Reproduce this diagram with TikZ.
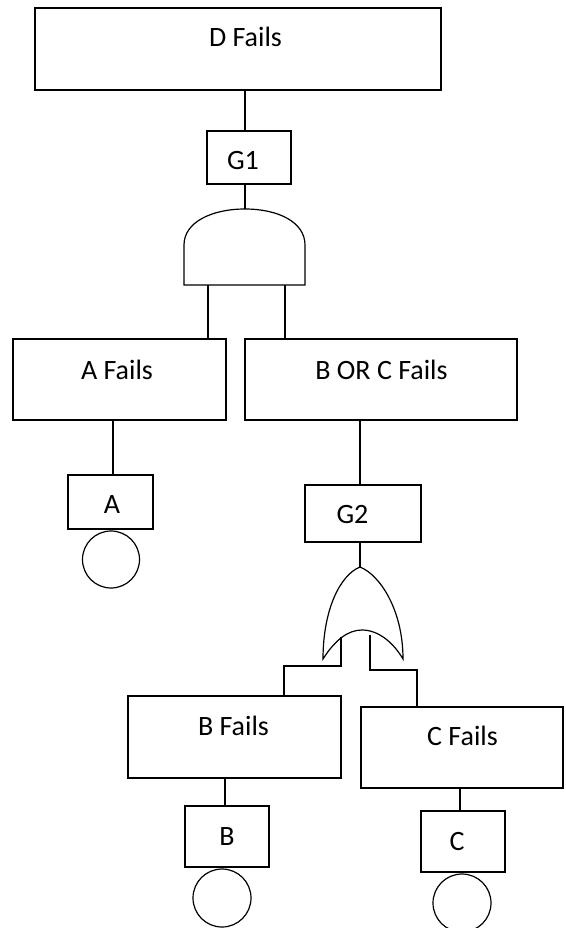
\documentclass[tikz,border=0pt]{standalone}
\usepackage{fontspec}
\setmainfont{Carlito}
\begin{document}
\begin{tikzpicture}[x=1pt,y=-1pt,line width=1.2pt,
  evbox/.style 2 args={draw,rectangle,inner sep=0pt,minimum width=#1,minimum height=#2},
  basic/.style={draw,circle,inner sep=0pt,minimum size=#1},
  lbl/.style={font=\fontsize{28}{32}\selectfont,anchor=base,inner sep=0pt}]
\useasboundingbox (0,0) rectangle (565,928);

% events
\node[evbox={406pt}{82pt}] (dbox) at (238,49) {};
\node[lbl] (dtxt) at (245.5,47) {D Fails};
\node[evbox={84pt}{53pt}] (g1) at (249,157.5) {};
\node[lbl] (g1txt) at (243,170) {G1};
\node[evbox={213pt}{81pt}] (afails) at (119.5,379.5) {};
\node[lbl] (afailstxt) at (117,379) {A Fails};
\node[evbox={272pt}{81pt}] (bcfails) at (381,379.5) {};
\node[lbl] (bcfailstxt) at (381.5,379) {B OR C Fails};
\node[evbox={116pt}{57pt}] (g2) at (363,513.5) {};
\node[lbl] (g2txt) at (352.5,523) {G2};
\node[evbox={85pt}{54pt}] (abox) at (110.5,502) {};
\node[lbl] (atxt) at (112,513) {A};
\node[basic=57pt] (acirc) at (111,559.5) {};
\node[evbox={213pt}{82pt}] (bfails) at (234.5,737) {};
\node[lbl] (bfailstxt) at (233.5,735) {B Fails};
\node[evbox={202pt}{81pt}] (cfails) at (462,747.5) {};
\node[lbl] (cfailstxt) at (462.5,745) {C Fails};
\node[evbox={84pt}{61pt}] (bbox) at (227,836.5) {};
\node[lbl] (btxt) at (227,845) {B};
\node[basic=58pt] (bcirc) at (222,898) {};
\node[evbox={84pt}{61pt}] (cbox) at (463,841.5) {};
\node[lbl] (ctxt) at (457,850) {C};
\node[basic=58pt] (ccirc) at (462,903) {};

% AND gate G1
\coordinate (andtop) at (245,209);
\coordinate (andl) at (208,285);
\coordinate (andr) at (285,285);
\draw (184,285) -- (184,245) .. controls (184,222) and (212,209) .. (andtop)
      .. controls (278,209) and (305,222) .. (305,245) -- (305,285) -- cycle;

% OR gate G2
\coordinate (ortop) at (360,567);
\coordinate (orl) at (341,637);
\coordinate (orr) at (370,635);
\coordinate (orlk) at (284,666);
\coordinate (orrk) at (417,670);
\draw (ortop) .. controls (340,575) and (323,610) .. (323,659)
      .. controls (335,640) and (348,630) .. (362,630)
      .. controls (378,630) and (393,642) .. (403,659)
      .. controls (403,610) and (380,575) .. (ortop) -- cycle;

% wire positions below event boxes
\coordinate (aw) at (113,0);
\coordinate (bw) at (225,0);
\coordinate (cw) at (460,0);

% connectors
\draw (dbox.south -| andtop) -- (g1.north -| andtop);
\draw (g1.south -| andtop) -- (andtop);
\draw (andl) -- (afails.north -| andl);
\draw (andr) -- (bcfails.north -| andr);
\draw (afails.south -| aw) -- (abox.north -| aw);
\draw (bcfails.south -| ortop) -- (g2.north -| ortop);
\draw (g2.south -| ortop) -- (ortop);
\draw (orl) |- (orlk) -- (bfails.north -| orlk);
\draw (orr) |- (orrk) -- (cfails.north -| orrk);
\draw (bfails.south -| bw) -- (bbox.north -| bw);
\draw (cfails.south -| cw) -- (cbox.north -| cw);
\end{tikzpicture}
\end{document}
